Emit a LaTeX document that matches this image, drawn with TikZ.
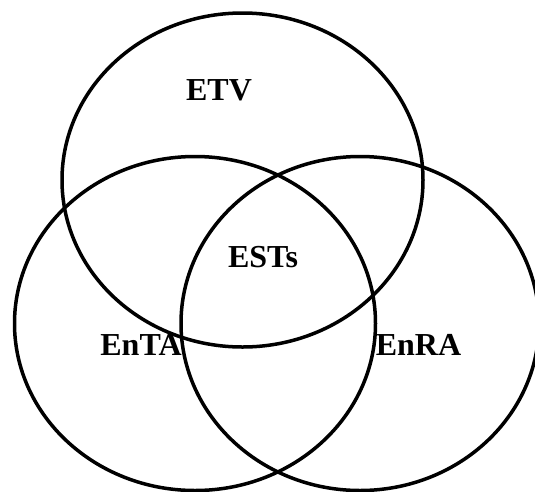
\documentclass[tikz,border=0pt]{standalone}
\usepackage{fontspec}
\setmainfont{Liberation Serif}
\tikzset{
  setline/.style={draw=black, line width=3.5pt},
  setlabel/.style={inner sep=0pt, anchor=base, font=\bfseries\fontsize{32}{38}\selectfont}
}
\begin{document}
\begin{tikzpicture}[x=1pt,y=-1pt]
\useasboundingbox (0,0) rectangle (535,491);
\clip (0,0) rectangle (535,491);
\draw[setline] (242.5,180) ellipse [x radius=180.5, y radius=167];
\draw[setline] (195,323.5) ellipse [x radius=180.5, y radius=167];
\draw[setline] (360,323.5) ellipse [x radius=179, y radius=167];
\node[setlabel] (etv) at (219,100) {ETV};
\node[setlabel] (ests) at (263,267) {ESTs};
\node[setlabel] (enta) at (141,355) {EnTA};
\node[setlabel] (enra) at (418.5,355) {EnRA};
\end{tikzpicture}
\end{document}
